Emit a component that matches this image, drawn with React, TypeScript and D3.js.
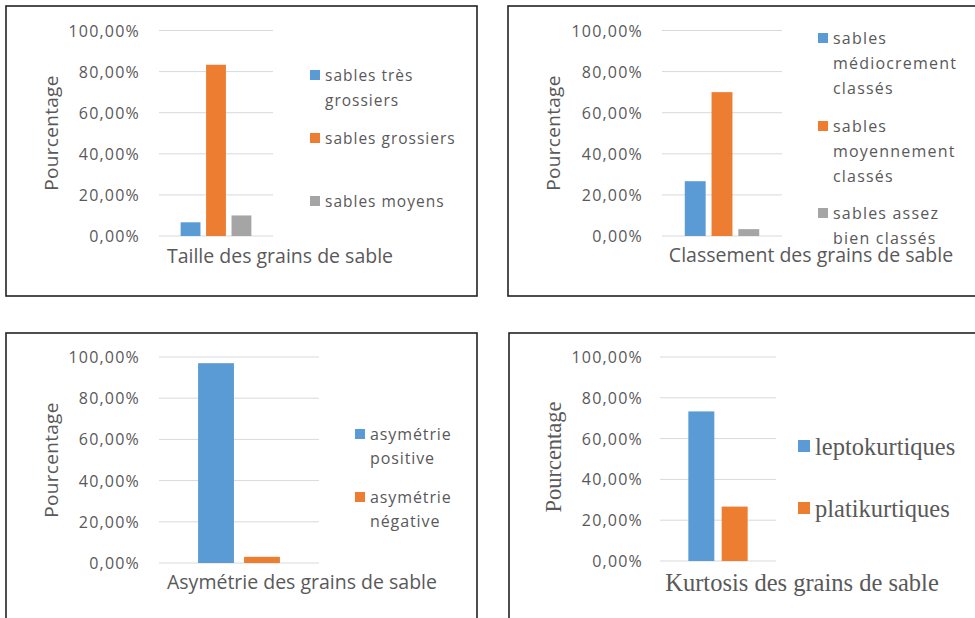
import React from "react";
import * as d3 from "d3";

// ---------- data ----------
const yTicks = [0, 0.2, 0.4, 0.6, 0.8, 1.0];
const seriesColors = ["#5B9BD5", "#ED7D31", "#A5A5A5"];

const tailleCategories = ["sables très grossiers", "sables grossiers", "sables moyens"];
const tailleValues = [0.0667, 0.8333, 0.1];
const tailleLegendLines = [["sables très", "grossiers"], ["sables grossiers"], ["sables moyens"]];

const classementCategories = [
  "sables médiocrement classés",
  "sables moyennement classés",
  "sables assez bien classés",
];
const classementValues = [0.2667, 0.7, 0.0333];
const classementLegendLines = [
  ["sables", "médiocrement", "classés"],
  ["sables", "moyennement", "classés"],
  ["sables assez", "bien classés"],
];

const asymetrieCategories = ["asymétrie positive", "asymétrie négative"];
const asymetrieValues = [0.97, 0.03];
const asymetrieLegendLines = [["asymétrie", "positive"], ["asymétrie", "négative"]];

const kurtosisCategories = ["leptokurtiques", "platikurtiques"];
const kurtosisValues = [0.7333, 0.2667];
const kurtosisLegendLines = [["leptokurtiques"], ["platikurtiques"]];

const axisTitle = "Pourcentage";
const titles = [
  "Taille des grains de sable",
  "Classement des grains de sable",
  "Asymétrie des grains de sable",
  "Kurtosis des grains de sable",
];

const SANS = "'Open Sans', sans-serif";
const SERIF = "'Liberation Serif', 'Times New Roman', serif";
const TEXT = "#595959";

const fmt = (v: number) => (v * 100).toFixed(2).replace(".", ",") + "%";

type PanelProps = {
  box: [number, number, number, number];
  plotX: [number, number];
  plotY: [number, number];
  tickRight: number;
  categories: string[];
  values: number[];
  legendLines: string[][];
  legendX: number;
  legendSquareYs: number[];
  legendLineGap: number;
  legendSquare: number;
  legendFont: string;
  legendSize: number;
  legendSpacing: number;
  titleText: string;
  titlePos: [number, number];
  titleFont: string;
  titleSize: number;
  axisPos: [number, number];
  axisFont: string;
  axisSize: number;
  axisSpacing: number;
};

function Panel(p: PanelProps) {
  const y = d3.scaleLinear().domain([0, 1]).range([p.plotY[0], p.plotY[1]]);
  const x = d3
    .scaleBand<string>()
    .domain(p.categories)
    .range(p.plotX)
    .paddingInner(0.22)
    .paddingOuter(0.85);
  const [bx, by, bw, bh] = p.box;
  return (
    <g>
      <rect x={bx} y={by} width={bw} height={bh} fill="#fff" stroke="#222" strokeWidth={1.6} />
      {yTicks.map((t) => (
        <g key={t}>
          <line x1={p.plotX[0]} x2={p.plotX[1]} y1={y(t)} y2={y(t)} stroke="#D9D9D9" strokeWidth={1} />
          <text
            x={p.tickRight}
            y={y(t)}
            textAnchor="end"
            dominantBaseline="central"
            fontFamily={SANS}
            fontSize={16}
            letterSpacing={1.2}
            fill={TEXT}
          >
            {fmt(t)}
          </text>
        </g>
      ))}
      {p.categories.map((c, i) => (
        <rect
          key={c}
          x={x(c)}
          width={x.bandwidth()}
          y={y(p.values[i])}
          height={y(0) - y(p.values[i])}
          fill={seriesColors[i]}
        />
      ))}
      <text
        transform={`translate(${p.axisPos[0]},${p.axisPos[1]}) rotate(-90)`}
        textAnchor="middle"
        dominantBaseline="central"
        fontFamily={p.axisFont}
        fontSize={p.axisSize}
        letterSpacing={p.axisSpacing}
        fill={TEXT}
      >
        {axisTitle}
      </text>
      <text
        x={p.titlePos[0]}
        y={p.titlePos[1]}
        textAnchor="middle"
        dominantBaseline="central"
        fontFamily={p.titleFont}
        fontSize={p.titleSize}
        fill={TEXT}
      >
        {p.titleText}
      </text>
      {p.legendLines.map((lines, i) => (
        <g key={i}>
          <rect
            x={p.legendX - p.legendSquare - 5}
            y={p.legendSquareYs[i]}
            width={p.legendSquare}
            height={p.legendSquare}
            fill={seriesColors[i]}
          />
          {lines.map((ln, j) => (
            <text
              key={j}
              x={p.legendX}
              y={p.legendSquareYs[i] + p.legendSquare / 2 + j * p.legendLineGap}
              dominantBaseline="central"
              fontFamily={p.legendFont}
              fontSize={p.legendSize}
              letterSpacing={p.legendSpacing}
              fill={TEXT}
            >
              {ln}
            </text>
          ))}
        </g>
      ))}
    </g>
  );
}

export default function App() {
  return (
    <svg
      width={975}
      height={618}
      style={{ position: "absolute", left: 0, top: 0, background: "#fff" }}
    >
      <Panel
        box={[6, 6, 471, 290]}
        plotX={[159, 273]}
        plotY={[236, 30.5]}
        tickRight={140}
        categories={tailleCategories}
        values={tailleValues}
        legendLines={tailleLegendLines}
        legendX={325}
        legendSquareYs={[70, 133, 196]}
        legendLineGap={25}
        legendSquare={10}
        legendFont={SANS}
        legendSize={15.5}
        legendSpacing={1}
        titleText={titles[0]}
        titlePos={[280, 255]}
        titleFont={SANS}
        titleSize={19.5}
        axisPos={[51, 133]}
        axisFont={SANS}
        axisSize={19}
        axisSpacing={0.3}
      />
      <Panel
        box={[508, 6, 480, 290]}
        plotX={[662, 782]}
        plotY={[236, 30.5]}
        tickRight={643}
        categories={classementCategories}
        values={classementValues}
        legendLines={classementLegendLines}
        legendX={833}
        legendSquareYs={[33, 121, 208]}
        legendLineGap={25}
        legendSquare={10}
        legendFont={SANS}
        legendSize={16}
        legendSpacing={1.2}
        titleText={titles[1]}
        titlePos={[811, 254]}
        titleFont={SANS}
        titleSize={19.5}
        axisPos={[553, 133]}
        axisFont={SANS}
        axisSize={19}
        axisSpacing={0.3}
      />
      <Panel
        box={[6, 333, 471, 300]}
        plotX={[159, 319]}
        plotY={[563, 357]}
        tickRight={140}
        categories={asymetrieCategories}
        values={asymetrieValues}
        legendLines={asymetrieLegendLines}
        legendX={370}
        legendSquareYs={[429, 492]}
        legendLineGap={24}
        legendSquare={10}
        legendFont={SANS}
        legendSize={16}
        legendSpacing={0.9}
        titleText={titles[2]}
        titlePos={[302, 581]}
        titleFont={SANS}
        titleSize={19.5}
        axisPos={[51, 460]}
        axisFont={SANS}
        axisSize={19}
        axisSpacing={0.3}
      />
      <Panel
        box={[509, 333, 480, 300]}
        plotX={[660, 776]}
        plotY={[561, 357]}
        tickRight={643}
        categories={kurtosisCategories}
        values={kurtosisValues}
        legendLines={kurtosisLegendLines}
        legendX={815}
        legendSquareYs={[440, 502]}
        legendLineGap={24}
        legendSquare={12}
        legendFont={SERIF}
        legendSize={24.5}
        legendSpacing={0}
        titleText={titles[3]}
        titlePos={[802, 582]}
        titleFont={SERIF}
        titleSize={24.5}
        axisPos={[553, 457]}
        axisFont={SERIF}
        axisSize={22.5}
        axisSpacing={0}
      />
    </svg>
  );
}
